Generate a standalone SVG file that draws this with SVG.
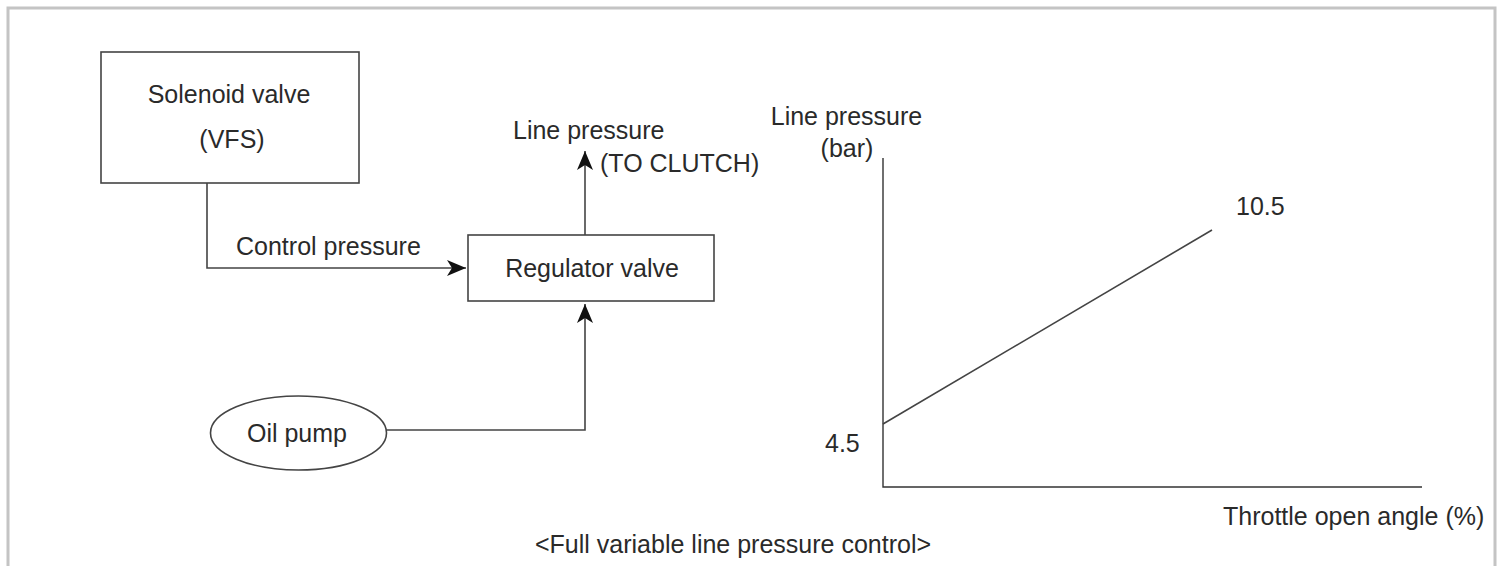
<svg xmlns="http://www.w3.org/2000/svg" width="1501" height="566" viewBox="0 0 1501 566">
<style>
text{font-family:"Liberation Sans",Arial,sans-serif;font-size:25px;fill:#2a2a2a}
.box{fill:#fff;stroke:#444;stroke-width:1.6}
.ln{fill:none;stroke:#444;stroke-width:1.6}
.ax{fill:none;stroke:#333;stroke-width:1.4}
.mid{text-anchor:middle}
</style>
<defs>
<marker id="arr" viewBox="-20 -9 21 18" refX="0" refY="0" markerWidth="21" markerHeight="18" markerUnits="userSpaceOnUse" orient="auto">
<path d="M0,0 L-19,-8 L-14,0 L-19,8 Z" fill="#111"/>
</marker>
</defs>
<rect width="1501" height="566" fill="#fff"/>
<path d="M8,566 V8 H1495 V566" fill="none" stroke="#c4c4c4" stroke-width="3"/>
<g id="solenoid">
<rect class="box" x="101" y="52" width="258" height="131"/>
<text class="mid" x="229" y="103">Solenoid valve</text>
<text class="mid" x="232" y="148">(VFS)</text>
</g>
<g id="regulator">
<rect class="box" x="468" y="235" width="246" height="66"/>
<text class="mid" x="592" y="277">Regulator valve</text>
</g>
<g id="oilpump">
<ellipse class="box" cx="298.5" cy="433" rx="88" ry="37"/>
<text class="mid" x="297" y="442">Oil pump</text>
</g>
<g id="connectors">
<path class="ln" d="M207,183 V268 H466" marker-end="url(#arr)"/>
<path class="ln" d="M386.5,430 H585 V304" marker-end="url(#arr)"/>
<path class="ln" d="M585,235 V151" marker-end="url(#arr)"/>
</g>
<g id="labels">
<text x="236" y="255">Control pressure</text>
<text x="513" y="139">Line pressure</text>
<text x="600" y="172">(TO CLUTCH)</text>
</g>
<g id="chart">
<path class="ax" d="M883,158 V487 H1422"/>
<path class="ln" d="M883,424 L1212,230"/>
<text class="mid" x="846.5" y="125">Line pressure</text>
<text class="mid" x="847" y="157">(bar)</text>
<text x="1236" y="215">10.5</text>
<text x="825" y="452">4.5</text>
<text x="1223" y="525">Throttle open angle (%)</text>
</g>
<g id="caption">
<text x="535" y="553">&lt;Full variable line pressure control&gt;</text>
</g>
</svg>
